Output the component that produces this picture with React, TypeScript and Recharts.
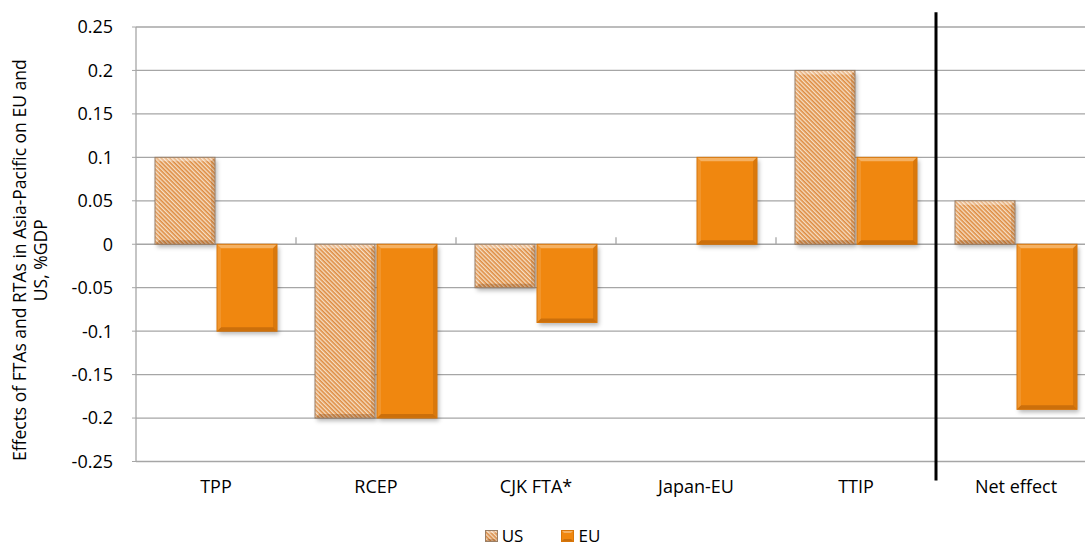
import React from 'react';
import { BarChart, Bar, XAxis, YAxis, CartesianGrid, ReferenceLine, Legend } from 'recharts';

const categories = ['TPP', 'RCEP', 'CJK FTA*', 'Japan-EU', 'TTIP', 'Net effect'];
const usValues: (number | null)[] = [0.1, -0.2, -0.05, null, 0.2, 0.05];
const euValues: (number | null)[] = [-0.1, -0.2, -0.09, 0.1, 0.1, -0.19];
const yTicks = [0.25, 0.2, 0.15, 0.1, 0.05, 0, -0.05, -0.1, -0.15, -0.2, -0.25];
const seriesNames = ['US', 'EU'];
const yTitleLines = ['Effects of FTAs and RTAs in Asia-Pacific on EU and', 'US, %GDP'];
const boundaryCategories = categories.slice(1);
const dividerCategory = 'Net effect';

const data = categories.map((c, i) => ({ category: c, US: usValues[i], EU: euValues[i] }));

const FONT = '"Open Sans", sans-serif';
const GRID = '#A6A6A6';

function BevelBar(props: any) {
  const { x, y, width, height, kind } = props;
  if (width == null || height == null || !isFinite(height) || Math.abs(height) < 0.5) return null;
  const w = width;
  const top = Math.min(y, y + height);
  const h = Math.abs(height);
  const b = 4;
  const isUS = kind === 'US';
  const fill = isUS ? 'url(#usStripes)' : '#F0870F';
  const border = isUS ? '#9A7F66' : '#D8760A';
  return (
    <g>
      <rect x={x + 2} y={top + 3} width={w} height={h} fill="rgba(0,0,0,0.28)" filter="url(#barShadow)" />
      <rect x={x} y={top} width={w} height={h} fill={fill} />
      <polygon points={`${x},${top} ${x + w},${top} ${x + w - b},${top + b} ${x + b},${top + b}`} fill="rgba(255,255,255,0.35)" />
      <polygon points={`${x},${top + h} ${x + w},${top + h} ${x + w - b},${top + h - b} ${x + b},${top + h - b}`} fill="rgba(90,40,0,0.25)" />
      <polygon points={`${x},${top} ${x + b},${top + b} ${x + b},${top + h - b} ${x},${top + h}`} fill="rgba(255,255,255,0.12)" />
      <polygon points={`${x + w},${top} ${x + w - b},${top + b} ${x + w - b},${top + h - b} ${x + w},${top + h}`} fill="rgba(90,40,0,0.15)" />
      <rect x={x} y={top} width={w} height={h} fill="none" stroke={border} strokeWidth={1} />
    </g>
  );
}

function YTitle(props: any) {
  const vb = props.viewBox || { x: 0, y: 0, width: 0, height: 0 };
  const cy = vb.y + vb.height / 2 + 16;
  return (
    <text transform={`translate(${vb.x},${cy}) rotate(-90)`} textAnchor="middle" fontFamily={FONT} fontSize={17.5} fill="#000">
      <tspan x={0} y={26}>{yTitleLines[0]}</tspan>
      <tspan x={0} y={47}>{yTitleLines[1]}</tspan>
    </text>
  );
}

function LegendIcon({ name }: { name: string }) {
  const isUS = name === 'US';
  return (
    <svg width={13} height={12} style={{ display: 'block' }}>
      <defs>
        <pattern id="usStripesLegend" patternUnits="userSpaceOnUse" width={3} height={3} patternTransform="rotate(45)">
          <rect width={3} height={3} fill="#F4DCC0" />
          <rect width={3} height={1.6} fill="#D98A45" />
        </pattern>
      </defs>
      <rect x={0} y={0} width={13} height={12} fill={isUS ? 'url(#usStripesLegend)' : '#F0870F'} />
      <polygon points="0,0 13,0 10,3 3,3" fill="rgba(255,255,255,0.35)" />
      <polygon points="0,12 13,12 10,9 3,9" fill="rgba(90,40,0,0.25)" />
      <rect x={0.5} y={0.5} width={12} height={11} fill="none" stroke={isUS ? '#9A7F66' : '#D8760A'} />
    </svg>
  );
}

function LegendContent() {
  return (
    <div style={{ width: 1085, height: 45, position: 'relative' }}>
      <div style={{ position: 'absolute', top: 24, left: 0, width: 1085, display: 'flex', justifyContent: 'center', gap: 38, fontFamily: FONT, fontSize: 17, lineHeight: '20px', color: '#000' }}>
        {seriesNames.map((n) => (
          <div key={n} style={{ display: 'flex', alignItems: 'center', gap: 4 }}>
            <LegendIcon name={n} />
            <span>{n}</span>
          </div>
        ))}
      </div>
    </div>
  );
}

export default function App() {
  return (
    <div style={{ position: 'fixed', left: 0, top: 0, width: 1085, height: 547, overflow: 'hidden', background: '#fff' }}>
      <BarChart
        width={1100}
        height={547}
        data={data}
        margin={{ top: 27, right: 4, bottom: 0, left: 0 }}
        barCategoryGap={19}
        barGap={2}
        style={{ fontFamily: FONT }}
      >
        <defs>
          <pattern id="usStripes" patternUnits="userSpaceOnUse" width={3} height={3} patternTransform="rotate(45)">
            <rect width={3} height={3} fill="#F6E0C6" />
            <rect width={3} height={1.6} fill="#DE8B40" />
          </pattern>
          <filter id="barShadow" x="-20%" y="-20%" width="140%" height="140%">
            <feGaussianBlur stdDeviation={2} />
          </filter>
        </defs>
        <CartesianGrid vertical={false} stroke={GRID} strokeWidth={1.3} />
        <XAxis
          dataKey="category"
          axisLine={false}
          tickLine={false}
          height={40.5}
          tickMargin={13}
          tick={{ fontSize: 18, fill: '#000', fontFamily: FONT }}
          interval={0}
        />
        <YAxis
          type="number"
          domain={[-0.25, 0.25]}
          ticks={yTicks}
          width={136}
          axisLine={{ stroke: GRID, strokeWidth: 1.3 }}
          tickLine={{ stroke: GRID }}
          tickSize={4}
          tickMargin={19}
          tick={{ fontSize: 18, fill: '#000', fontFamily: FONT }}
          tickFormatter={(v: number) => String(v)}
          label={{ content: <YTitle /> }}
        />
        {boundaryCategories.map((c) => (
          <ReferenceLine
            key={c}
            segment={[{ x: c, y: 0 }, { x: c, y: 0.008 }]}
            position="start"
            stroke={GRID}
            strokeWidth={1.3}
          />
        ))}
        <Bar dataKey="US" name="US" isAnimationActive={false} shape={(p: any) => <BevelBar {...p} kind="US" />} />
        <Bar dataKey="EU" name="EU" isAnimationActive={false} shape={(p: any) => <BevelBar {...p} kind="EU" />} />
        <ReferenceLine
          segment={[{ x: dividerCategory, y: 0.267 }, { x: dividerCategory, y: -0.272 }]}
          position="start"
          stroke="#000"
          strokeWidth={3}
          ifOverflow="visible"
        />
        <Legend
          verticalAlign="bottom"
          content={<LegendContent />}
          wrapperStyle={{ left: 0, width: 1085 }}
        />
      </BarChart>
    </div>
  );
}
